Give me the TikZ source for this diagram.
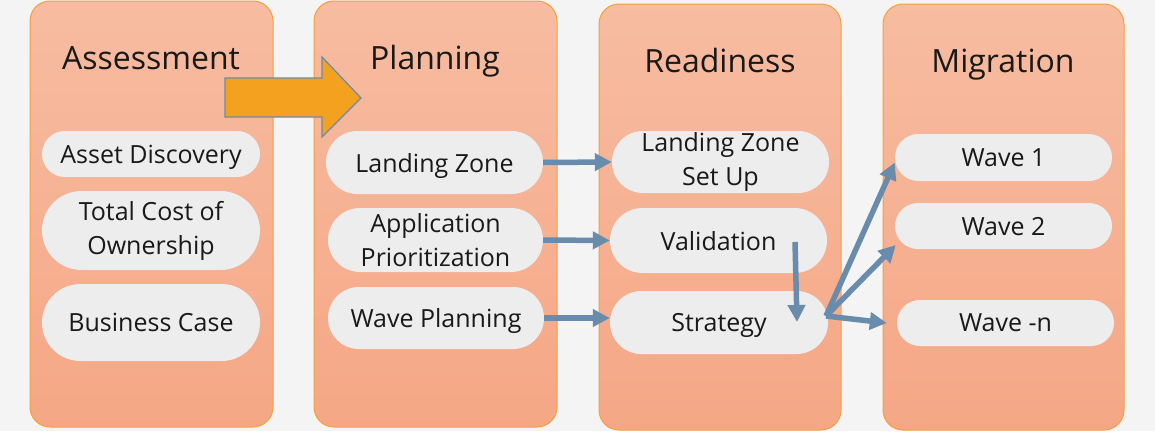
\documentclass[tikz,border=0pt]{standalone}
\usepackage{fontspec}
\setmainfont{Open Sans}
\usetikzlibrary{shapes.misc,arrows.meta,calc}
\definecolor{bgray}{RGB}{244,244,244}
\definecolor{phasetop}{RGB}{247,188,161}
\definecolor{phasebot}{RGB}{245,167,133}
\definecolor{phaseline}{RGB}{245,160,60}
\definecolor{pillfill}{RGB}{237,237,237}
\definecolor{flowblue}{RGB}{106,140,172}
\definecolor{bigorange}{RGB}{245,161,32}
\begin{document}
\begin{tikzpicture}[x=1pt,y=-1pt,
  phase/.style={draw=phaseline,line width=1pt,rounded corners=20pt,top color=phasetop,bottom color=phasebot},
  title/.style={anchor=base,font=\fontsize{32}{38}\selectfont,text=black!90},
  task2/.style={rounded rectangle,fill=pillfill,inner sep=0pt,align=center,font=\fontsize{25}{34}\selectfont,text=black!90},
  task/.style={task2,text depth=0pt},
  flow/.style={draw=flowblue,line width=5.5pt,-{Triangle[length=17pt,width=17pt]}}]
\fill[bgray] (0,0) rectangle (1155,431);
\useasboundingbox (0,0) rectangle (1155,431);
\draw[phase] (30,1) rectangle (273,427);
\draw[phase] (314,1) rectangle (557,427);
\draw[phase] (599,4) rectangle (841,430);
\draw[phase] (883,4) rectangle (1124,430);
\filldraw[fill=bigorange,draw=flowblue,line width=1.2pt] (225,78) -- (322,78) -- (322,57) -- (361,98) -- (322,137) -- (322,117) -- (225,117) -- cycle;
\node[title] (tA) at (151,69) {Assessment};
\node[title] (tP) at (435,69) {Planning};
\node[title] (tR) at (720,72) {Readiness};
\node[title] (tM) at (1003,72) {Migration};
\node[task,minimum width=218pt,minimum height=46pt] (a1) at (151,154) {Asset Discovery};
\node[task2,minimum width=218pt,minimum height=79pt] (a2) at (151,230.5) {Total Cost of\\Ownership};
\node[task,minimum width=218pt,minimum height=77pt] (a3) at (151,322.5) {Business Case};
\node[task,minimum width=217pt,minimum height=63pt] (p1) at (434.5,162.5) {Landing Zone};
\node[task2,minimum width=215pt,minimum height=64pt] (p2) at (435.5,240) {Application\\Prioritization};
\node[task,minimum width=216pt,minimum height=62pt] (p3) at (436,318) {Wave Planning};
\node[task2,minimum width=217pt,minimum height=62pt] (r1) at (720.5,162) {Landing Zone\\Set Up};
\node[task,minimum width=217pt,minimum height=65pt] (r2) at (718.5,240.5) {Validation};
\node[task,minimum width=218pt,minimum height=63pt] (r3) at (719,322.5) {Strategy};
\node[task,minimum width=217pt,minimum height=47pt] (m1) at (1003.5,157.5) {Wave 1};
\node[task,minimum width=217pt,minimum height=46pt] (m2) at (1003.5,226) {Wave 2};
\node[task,minimum width=217pt,minimum height=46pt] (m3) at (1005.5,323) {Wave -n};
\draw[flow] (p1.east) -- (r1.west);
\draw[flow] (p2.east) -- (r2.west);
\draw[flow] (p3.east) -- (p3.east -| r3.west);
\coordinate (vtop) at (795,242);
\coordinate (vbot) at (797,322);
\draw[flow] (vtop) -- (vbot);
\coordinate (fan) at (826,316);
\draw[flow] (fan) -- ($(m1.west)+(0,5)$);
\draw[flow] (fan) -- ($(m2.west)+(1,19)$);
\draw[flow] (fan) -- ($(m3.west)+(-10,0)$);
\end{tikzpicture}
\end{document}
